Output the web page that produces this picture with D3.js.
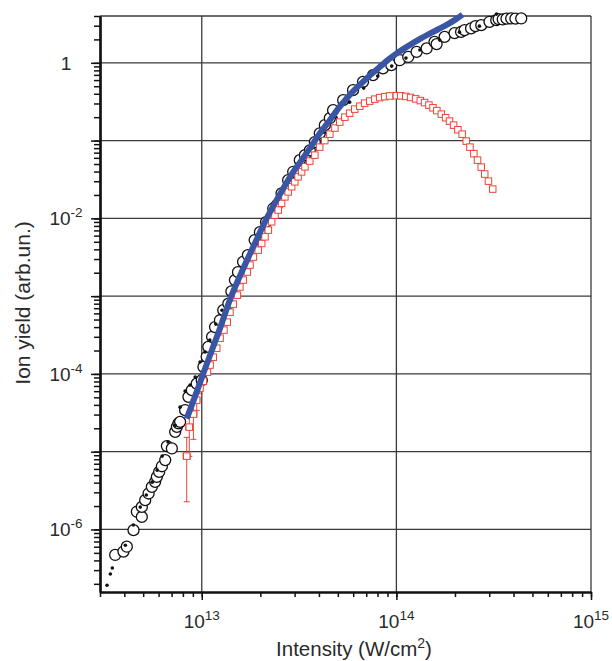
<!DOCTYPE html>
<html><head><meta charset="utf-8">
<script src="https://cdn.jsdelivr.net/npm/d3@7"></script>
<style>body{margin:0;background:#fff} svg{display:block}</style>
</head><body>
<svg id="chart" width="612" height="661"></svg>
<script>
// ---------- data ----------
// Experimental ion yield, open circles
const circleI = [3.59e12,3.96e12,4.12e12,4.46e12,4.64e12,4.92e12,4.92e12,5.12e12,5.33e12,5.54e12,5.76e12,5.88e12,6.04e12,6.24e12,6.49e12,6.62e12,7.02e12,7.30e12,7.45e12,7.59e12,7.74e12,8.21e12,8.54e12,8.89e12,9.42e12,1.0e13,1.02e13,1.06e13,1.08e13,1.13e13,1.17e13,1.24e13,1.29e13,1.37e13,1.42e13,1.48e13,1.535e13,1.63e13,1.726e13,1.87e13,1.99e13,2.14e13,2.33e13,2.43e13,2.57e13,2.78e13,2.95e13,3.19e13,3.39e13,3.59e13,3.81e13,4.04e13,4.29e13,4.55e13,4.73e13,5.33e13,5.99e13,6.74e13,7.59e13,8.53e13,9.42e13,1.04e14,1.15e14,1.27e14,1.43e14,1.57e14,1.61e14,1.77e14,1.99e14,2.15e14,2.24e14,2.42e14,2.55e14,2.73e14,3.01e14,3.26e14,3.35e14,3.52e14,3.68e14,3.89e14,4.09e14,4.38e14];
const circleY = [4.7e-7,5.2e-7,6.0e-7,9.8e-7,1.69e-6,1.45e-6,1.95e-6,2.38e-6,2.9e-6,3.53e-6,4.1e-6,4.75e-6,5.5e-6,6.5e-6,7.8e-6,1.18e-5,1.1e-5,1.80e-5,2.09e-5,2.31e-5,2.42e-5,3.42e-5,5.07e-5,6.18e-5,7.5e-5,8.3e-5,1.23e-4,1.66e-4,2.23e-4,3.0e-4,4.0e-4,4.9e-4,6.6e-4,8.0e-4,1.15e-3,1.61e-3,2.04e-3,2.76e-3,3.37e-3,5.26e-3,6.65e-3,8.95e-3,1.34e-2,1.48e-2,2.1e-2,3.1e-2,3.97e-2,5.6e-2,6.5e-2,7.5e-2,9.55e-2,0.124,0.158,0.194,0.246,0.331,0.445,0.570,0.695,0.847,0.934,1.08,1.19,1.38,1.53,1.86,1.74,2.16,2.41,2.50,2.63,2.77,2.96,3.05,3.37,3.54,3.65,3.61,3.70,3.72,3.70,3.72];

// Small filled black dots (second experimental set)
const dotI = [3.26e12,3.39e12,3.47e12,4.05e12,4.45e12,4.83e12,5.19e12,5.56e12,5.90e12,6.26e12,6.71e12,7.30e12,7.74e12,8.21e12,8.71e12,9.25e12,9.8e12,1.04e13,1.10e13,1.18e13,1.27e13,1.40e13,1.54e13,1.69e13,1.85e13,2.04e13,2.27e13,2.52e13,2.84e13,3.19e13,3.68e13,4.24e13,4.89e13,5.75e13,6.79e13,8.02e13,9.46e13,1.12e14,1.32e14,1.67e14,2.11e14,2.67e14,3.27e14];
const dotY = [1.92e-7,2.67e-7,3.19e-7,6.28e-7,1.14e-6,1.94e-6,2.77e-6,4.06e-6,5.79e-6,8.77e-6,1.33e-5,2.19e-5,3.74e-5,6.01e-5,7.18e-5,9.1e-5,1.42e-4,1.91e-4,2.72e-4,4.37e-4,6.6e-4,1.03e-3,1.71e-3,2.74e-3,4.53e-3,7.48e-3,1.20e-2,1.88e-2,3.10e-2,4.98e-2,8.0e-2,0.128,0.200,0.312,0.473,0.675,0.907,1.15,1.46,1.96,2.48,2.96,4.23];

// Calculated yield, red open squares
const squareI = [8.37e12,8.63e12,9.06e12,9.42e12,9.79e12,1.019e13,1.069e13,1.104e13,1.146e13,1.194e13,1.242e13,1.30e13,1.352e13,1.396e13,1.452e13,1.524e13,1.570e13,1.633e13,1.714e13,1.770e13,1.841e13,1.950e13,2.032e13,2.113e13,2.198e13,2.286e13,2.377e13,2.472e13,2.570e13,2.673e13,2.780e13,2.897e13,3.006e13,3.126e13,3.258e13,3.388e13,3.589e13,3.811e13,4.036e13,4.285e13,4.550e13,4.831e13,5.117e13,5.433e13,5.754e13,6.109e13,6.486e13,6.871e13,7.295e13,7.745e13,8.204e13,8.710e13,9.226e13,1.0e14,1.052e14,1.117e14,1.183e14,1.256e14,1.327e14,1.396e14,1.469e14,1.542e14,1.614e14,1.702e14,1.791e14,1.875e14,1.968e14,2.070e14,2.178e14,2.286e14,2.388e14,2.500e14,2.612e14,2.729e14,2.844e14,2.972e14,3.126e14];
const squareY = [8.77e-6,2.07e-5,3.04e-5,4.60e-5,6.56e-5,8.07e-5,1.054e-4,1.30e-4,1.64e-4,2.14e-4,2.88e-4,3.66e-4,4.63e-4,6.22e-4,7.89e-4,1.03e-3,1.31e-3,1.61e-3,2.04e-3,2.51e-3,3.18e-3,3.91e-3,4.76e-3,5.79e-3,7.06e-3,9.04e-3,1.10e-2,1.28e-2,1.56e-2,1.89e-2,2.19e-2,2.55e-2,2.95e-2,3.42e-2,3.96e-2,4.60e-2,5.45e-2,6.50e-2,8.24e-2,0.100,0.121,0.145,0.173,0.200,0.225,0.254,0.277,0.303,0.322,0.341,0.357,0.367,0.375,0.378,0.377,0.370,0.359,0.344,0.327,0.308,0.286,0.264,0.243,0.219,0.197,0.178,0.158,0.138,0.121,0.0984,0.0824,0.0679,0.0561,0.0456,0.0371,0.0301,0.0238];
// error bars of the first (lowest-intensity) squares
const squareYErr = [6.5e-6,1.2e-5,1.6e-5,1.2e-5,1.0e-5,8e-6];
const squareIErr = [3.5e11,3.5e11,3.8e11,3.5e11,3.5e11,0];

// Fit curve, thick blue line
const fitI = [8.37e12,9.25e12,1.019e13,1.125e13,1.242e13,1.396e13,1.570e13,1.770e13,1.945e13,2.153e13,2.377e13,2.618e13,2.904e13,3.258e13,3.639e13,4.036e13,4.550e13,5.000e13,5.546e13,6.109e13,6.745e13,7.447e13,8.204e13,9.016e13,1.0e14,1.104e14,1.216e14,1.343e14,1.483e14,1.633e14,1.803e14,1.991e14,2.188e14];
const fitY = [2.66e-5,5.18e-5,1.02e-4,1.99e-4,3.88e-4,9.02e-4,1.81e-3,3.52e-3,5.82e-3,9.93e-3,1.57e-2,2.41e-2,3.71e-2,5.61e-2,8.36e-2,0.123,0.183,0.254,0.348,0.452,0.570,0.716,0.881,1.084,1.312,1.545,1.791,2.080,2.371,2.685,3.055,3.540,4.169];

// axis labelling
const xTickLabels = [{v:1e13,b:"10",e:"13"},{v:1e14,b:"10",e:"14"},{v:1e15,b:"10",e:"15"}];
const yTickLabels = [{v:1,b:"1",e:""},{v:1e-2,b:"10",e:"-2"},{v:1e-4,b:"10",e:"-4"},{v:1e-6,b:"10",e:"-6"}];
const xMajor = [1e13,1e14,1e15];
const yMajor = [1e-6,1e-5,1e-4,1e-3,1e-2,1e-1,1];
const xTitle = ["Intensity (W/cm","2",")"];
const yTitle = "Ion yield (arb.un.)";

// ---------- drawing ----------
const svg = d3.select("#chart");
const L = 100, R = 591, T = 16, B = 592;
const x = d3.scaleLog().domain([3e12, 1e15]).range([L, R]);
const y = d3.scaleLog().domain([1.57e-7, 4]).range([B, T]);
const FONT = "'Liberation Sans', Arial, Helvetica, sans-serif";
const TXT = "#2a2a2a";

// grid
const g = svg.append("g");
g.selectAll("line.gx").data(xMajor.filter(v => v < 1e15)).join("line")
  .attr("x1", d => x(d)).attr("x2", d => x(d)).attr("y1", T).attr("y2", B)
  .attr("stroke", "#3a3a3a").attr("stroke-width", 1.3);
g.selectAll("line.gy").data(yMajor).join("line")
  .attr("x1", L).attr("x2", R).attr("y1", d => y(d)).attr("y2", d => y(d))
  .attr("stroke", "#3a3a3a").attr("stroke-width", 1.3);
// frame top / right
svg.append("line").attr("x1", L).attr("x2", R).attr("y1", T).attr("y2", T).attr("stroke", "#3a3a3a").attr("stroke-width", 1.3);
svg.append("line").attr("x1", R).attr("x2", R).attr("y1", T).attr("y2", B).attr("stroke", "#3a3a3a").attr("stroke-width", 1.3);

// axes: minor and major ticks
const yAll = y.ticks();
const xAll = x.ticks();
function styleAxis(sel, w) {
  sel.select(".domain").attr("stroke", "#111").attr("stroke-width", w);
  sel.selectAll(".tick line").attr("stroke", "#111").attr("stroke-width", 1.5);
  sel.selectAll(".tick text").remove();
}
svg.append("g").attr("transform", `translate(${L},0)`)
  .call(d3.axisLeft(y).tickValues(yAll).tickSize(6).tickSizeOuter(0).tickFormat(""))
  .call(s => styleAxis(s, 2.2));
svg.append("g").attr("transform", `translate(${L},0)`)
  .call(d3.axisLeft(y).tickValues(yMajor).tickSize(9).tickSizeOuter(0).tickFormat(""))
  .call(s => styleAxis(s, 2.2));
svg.append("g").attr("transform", `translate(0,${B})`)
  .call(d3.axisBottom(x).tickValues(xAll).tickSize(5).tickSizeOuter(0).tickFormat(""))
  .call(s => styleAxis(s, 2.2));
svg.append("g").attr("transform", `translate(0,${B})`)
  .call(d3.axisBottom(x).tickValues(xMajor).tickSize(8).tickSizeOuter(0).tickFormat(""))
  .call(s => styleAxis(s, 2.2));

// tick labels with superscripts
const yl = svg.append("g").selectAll("text").data(yTickLabels).join("text")
  .attr("x", 66).attr("y", d => y(d.v) + 7)
  .attr("text-anchor", "middle").attr("font-family", FONT).attr("font-size", 19).attr("fill", TXT);
yl.append("tspan").text(d => d.b);
yl.append("tspan").attr("dy", -8).attr("font-size", 13.5).text(d => d.e);

const xl = svg.append("g").selectAll("text").data(xTickLabels).join("text")
  .attr("x", d => x(d.v)).attr("y", 628)
  .attr("text-anchor", "middle").attr("font-family", FONT).attr("font-size", 19).attr("fill", TXT);
xl.append("tspan").text(d => d.b);
xl.append("tspan").attr("dy", -8).attr("font-size", 13.5).text(d => d.e);

// titles
const xt = svg.append("text").attr("x", 354).attr("y", 656).attr("text-anchor", "middle")
  .attr("font-family", FONT).attr("font-size", 20.5).attr("fill", TXT);
xt.append("tspan").text(xTitle[0]);
xt.append("tspan").attr("dy", -8).attr("font-size", 14).text(xTitle[1]);
xt.append("tspan").attr("dy", 8).text(xTitle[2]);

svg.append("text").attr("transform", `translate(30,303) rotate(-90)`).attr("text-anchor", "middle")
  .attr("font-family", FONT).attr("font-size", 21).attr("fill", TXT).text(yTitle);

// data marks
const circles = circleI.map((v, i) => ({I: v, Y: circleY[i]}));
const dots = dotI.map((v, i) => ({I: v, Y: dotY[i]}));
const squares = squareI.map((v, i) => ({I: v, Y: squareY[i], eY: squareYErr[i] || 0, eI: squareIErr[i] || 0}));
const fit = fitI.map((v, i) => ({I: v, Y: fitY[i]}));

svg.append("g").selectAll("circle").data(circles).join("circle")
  .attr("cx", d => x(d.I)).attr("cy", d => y(d.Y)).attr("r", 5.5)
  .attr("fill", "#fff").attr("stroke", "#111").attr("stroke-width", 1.3);

svg.append("g").selectAll("circle").data(dots).join("circle")
  .attr("cx", d => x(d.I)).attr("cy", d => y(d.Y)).attr("r", 1.8)
  .attr("fill", "#111");

const RED = "#ee4436";
const eb = svg.append("g").attr("stroke", RED).attr("stroke-width", 1).attr("fill", "none");
squares.filter(d => d.eY > 0).forEach(d => {
  const cx = x(d.I), y0 = y(d.Y + d.eY), y1 = y(Math.max(d.Y - d.eY, 1e-9));
  eb.append("line").attr("x1", cx).attr("x2", cx).attr("y1", y0).attr("y2", y1);
  eb.append("line").attr("x1", cx - 3).attr("x2", cx + 3).attr("y1", y0).attr("y2", y0);
  eb.append("line").attr("x1", cx - 3).attr("x2", cx + 3).attr("y1", y1).attr("y2", y1);
  if (d.eI > 0) {
    const xa = x(d.I - d.eI), xb = x(d.I + d.eI), cy = y(d.Y);
    eb.append("line").attr("x1", xa).attr("x2", xb).attr("y1", cy).attr("y2", cy);
    eb.append("line").attr("x1", xa).attr("x2", xa).attr("y1", cy - 3).attr("y2", cy + 3);
    eb.append("line").attr("x1", xb).attr("x2", xb).attr("y1", cy - 3).attr("y2", cy + 3);
  }
});

const S = 6.5;
svg.append("g").selectAll("rect").data(squares).join("rect")
  .attr("x", d => x(d.I) - S / 2).attr("y", d => y(d.Y) - S / 2)
  .attr("width", S).attr("height", S)
  .attr("fill", "#fff").attr("stroke", RED).attr("stroke-width", 1);

svg.append("path").datum(fit)
  .attr("d", d3.line().x(d => x(d.I)).y(d => y(d.Y)).curve(d3.curveMonotoneX))
  .attr("fill", "none").attr("stroke", "#3a55a5").attr("stroke-width", 6).attr("stroke-linecap", "butt");
</script>
</body></html>
